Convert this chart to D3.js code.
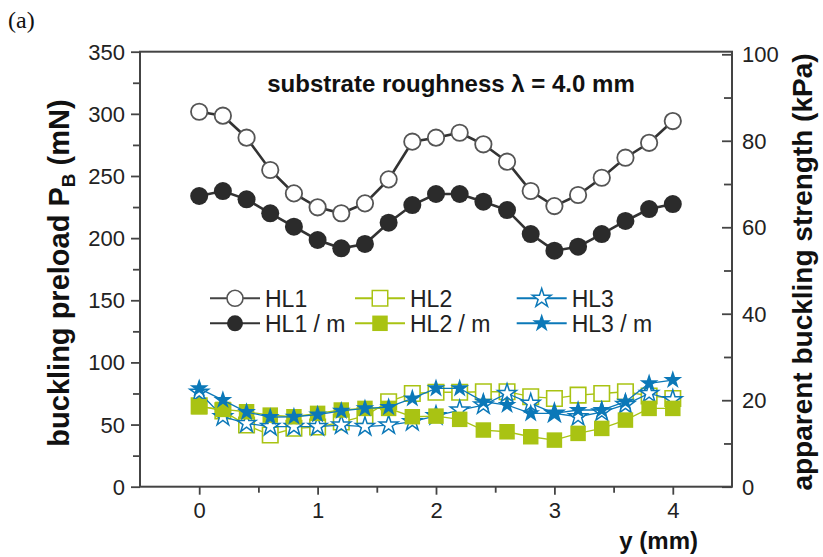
<!DOCTYPE html>
<html><head><meta charset="utf-8">
<script src="https://cdn.jsdelivr.net/npm/d3@7"></script>
<style>body{margin:0;background:#fff}svg{display:block}text{font-family:"Liberation Sans",Arial,sans-serif}</style>
</head><body><svg id="c" width="823" height="557"></svg>
<script>
const positions = [0,0.2,0.4,0.6,0.8,1.0,1.2,1.4,1.6,1.8,2.0,2.2,2.4,2.6,2.8,3.0,3.2,3.4,3.6,3.8,4.0];
const hl1  = [301.7,298.5,280.8,254.8,236,224.8,220,228,247.3,277.6,280.8,284.8,275.5,261.5,237.9,225.8,234.7,248.6,264.7,276.7,294.2];
const hl1m = [233.9,237.9,231.2,220,209.2,198.5,191.8,195.3,212.4,226.6,235.5,235.5,229.3,222.6,203.3,189.9,193.1,203.3,213.8,223.4,227.4];
const hl2  = [65,61,49.6,41.6,47,48,52,57,68.4,75,76,76,76.4,76.4,72.4,71,73.7,75,76.4,73,71];
const hl2m = [64.4,62.2,60.3,57.6,56.3,59,61.7,63,63,56.3,56.8,54.2,45.6,44.2,40.2,37.5,42.9,46.9,53.6,63,63];
const hl3  = [76,56.3,50.9,48.3,48.3,48.3,49.6,48.3,49.6,52.3,57,61.7,65.7,75,67,59,56.3,60,66,75,70];
const hl3m = [79.1,69.7,60,56,56.3,58,61,63,64,71,79.1,79.1,68.4,65.7,59,59,61.7,61.7,68.4,83.1,85.8];
const leftTicks = [0,50,100,150,200,250,300,350];
const rightTicks = [0,20,40,60,80,100];
const xTicks = [0,1,2,3,4];
const legendLabels = ["HL1","HL1 / m","HL2","HL2 / m","HL3","HL3 / m"];

const svg = d3.select("#c");
const X0=140, X1=732, Y0=486.7, Y1=51.7;
const x = d3.scaleLinear().domain([-0.5,4.5]).range([X0,X1]);
const y = d3.scaleLinear().domain([0,350]).range([Y0,Y1]);
const yr = d3.scaleLinear().domain([0,100.6]).range([Y0,Y1]);

const GREEN="#a9c313", BLUE="#0b78b8", DARK="#333", AX="#444";
const star = d3.symbol().type(d3.symbolStar).size(110);
const square = d3.symbol().type(d3.symbolSquare).size(240);

// axes
const fs = 22;
const gL = svg.append("g").attr("transform",`translate(${X0},0)`)
  .call(d3.axisLeft(y).tickValues(leftTicks).tickSize(9).tickPadding(6));
const gLm = svg.append("g").attr("transform",`translate(${X0},0)`)
  .call(d3.axisLeft(y).tickValues(d3.range(25,350,50)).tickSize(7).tickFormat(""));
const gR = svg.append("g").attr("transform",`translate(${X1},0)`)
  .call(d3.axisRight(yr).tickValues(rightTicks).tickSizeInner(-10).tickSizeOuter(0).tickPadding(10));
const gRm = svg.append("g").attr("transform",`translate(${X1},0)`)
  .call(d3.axisRight(yr).tickValues(d3.range(10,100,20)).tickSizeInner(-8).tickSizeOuter(0).tickFormat(""));
const gB = svg.append("g").attr("transform",`translate(0,${Y0})`)
  .call(d3.axisBottom(x).tickValues(xTicks).tickFormat(d3.format("d")).tickSize(8).tickPadding(8));
const gBm = svg.append("g").attr("transform",`translate(0,${Y0})`)
  .call(d3.axisBottom(x).tickValues([0.5,1.5,2.5,3.5]).tickSize(6).tickFormat(""));
[gL,gLm,gR,gRm,gB,gBm].forEach(g=>{
  g.selectAll(".domain").remove();
  g.selectAll("line").attr("stroke",AX).attr("stroke-width",1.8);
  g.selectAll("text").attr("font-size",fs).attr("fill","#222").style("font-family","'Liberation Sans',Arial,sans-serif");
});
gL.selectAll("text").attr("dy","0.34em");
gR.selectAll("text").attr("dy","0.34em");
// frame
svg.append("rect").attr("x",X0).attr("y",Y1).attr("width",X1-X0).attr("height",Y0-Y1)
  .attr("fill","none").attr("stroke",AX).attr("stroke-width",2);

const plot = svg.append("g");
function series(vals, color, lw){
  plot.append("path").datum(vals)
    .attr("d", d3.line().x((d,i)=>x(positions[i])).y(d=>y(d)))
    .attr("fill","none").attr("stroke",color).attr("stroke-width",lw);
}
series(hl1, DARK, 2.6);
plot.selectAll(null).data(hl1).join("circle").attr("cx",(d,i)=>x(positions[i])).attr("cy",d=>y(d))
  .attr("r",8.2).attr("fill","#fff").attr("stroke","#555").attr("stroke-width",1.8);
series(hl1m, DARK, 2.6);
plot.selectAll(null).data(hl1m).join("circle").attr("cx",(d,i)=>x(positions[i])).attr("cy",d=>y(d))
  .attr("r",9).attr("fill","#2b2b2b");
series(hl2, GREEN, 1.3);
plot.selectAll(null).data(hl2).join("path").attr("d",square)
  .attr("transform",(d,i)=>`translate(${x(positions[i])},${y(d)})`)
  .attr("fill","#fff").attr("stroke",GREEN).attr("stroke-width",1.6);
series(hl3, BLUE, 1.3);
plot.selectAll(null).data(hl3).join("path").attr("d",star)
  .attr("transform",(d,i)=>`translate(${x(positions[i])},${y(d)})`)
  .attr("fill","#fff").attr("stroke",BLUE).attr("stroke-width",1.5);
series(hl2m, GREEN, 1.3);
plot.selectAll(null).data(hl2m).join("path").attr("d",square)
  .attr("transform",(d,i)=>`translate(${x(positions[i])},${y(d)})`)
  .attr("fill",GREEN);
series(hl3m, BLUE, 1.3);
plot.selectAll(null).data(hl3m).join("path").attr("d",star)
  .attr("transform",(d,i)=>`translate(${x(positions[i])},${y(d)})`)
  .attr("fill",BLUE);

// legend
const legItems = [
  {col:0,row:0,c:"#444",m:"circle",fill:"#fff"},
  {col:0,row:1,c:"#333",m:"circle",fill:"#2b2b2b"},
  {col:1,row:0,c:GREEN,m:"square",fill:"#fff"},
  {col:1,row:1,c:GREEN,m:"square",fill:GREEN},
  {col:2,row:0,c:BLUE,m:"star",fill:"#fff"},
  {col:2,row:1,c:BLUE,m:"star",fill:BLUE}
];
const colX=[235,380,541.7], rowY=[298.3,323.3];
const leg = svg.append("g");
legItems.forEach((it,k)=>{
  const cx=colX[it.col], cy=rowY[it.row];
  leg.append("line").attr("x1",cx-25).attr("x2",cx+25).attr("y1",cy).attr("y2",cy)
    .attr("stroke",it.c).attr("stroke-width",2);
  if(it.m==="circle"){
    leg.append("circle").attr("cx",cx).attr("cy",cy).attr("r",8).attr("fill",it.fill)
      .attr("stroke",it.fill==="#fff"?"#555":"none").attr("stroke-width",1.6);
  } else {
    leg.append("path").attr("d",it.m==="square"?square:star).attr("transform",`translate(${cx},${cy})`)
      .attr("fill",it.fill).attr("stroke",it.fill==="#fff"?it.c:"none").attr("stroke-width",1.5);
  }
  leg.append("text").attr("x",cx+30).attr("y",cy).attr("dy","0.36em").attr("font-size",23)
    .attr("fill","#222").text(legendLabels[k]);
});

// titles
svg.append("text").attr("x",451).attr("y",92).attr("text-anchor","middle")
  .attr("font-size",24).attr("font-weight","bold").attr("fill","#111")
  .text("substrate roughness λ = 4.0 mm");
const lt = svg.append("text").attr("transform","translate(69,273) rotate(-90)").attr("text-anchor","middle")
  .attr("font-size",29).attr("font-weight","bold").attr("fill","#111");
lt.append("tspan").text("buckling preload P");
lt.append("tspan").attr("font-size",19).attr("dy",6).text("B");
lt.append("tspan").attr("dy",-6).text(" (mN)");
svg.append("text").attr("transform","translate(812,272) rotate(-90)").attr("text-anchor","middle")
  .attr("font-size",28).attr("font-weight","bold").attr("fill","#111")
  .text("apparent buckling strength (kPa)");
svg.append("text").attr("x",698).attr("y",549).attr("text-anchor","end")
  .attr("font-size",24).attr("font-weight","bold").attr("fill","#111").text("y (mm)");
svg.append("text").attr("x",8).attr("y",28).attr("font-size",24)
  .style("font-family","'Liberation Serif','Times New Roman',serif").attr("fill","#111").text("(a)");
</script></body></html>
